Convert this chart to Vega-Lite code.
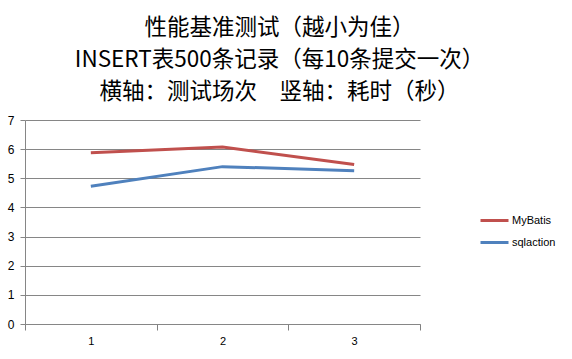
{
  "$schema": "https://vega.github.io/schema/vega-lite/v6.json",
  "width": 395,
  "height": 204,
  "autosize": {"type": "none"},
  "padding": {"left": 25, "top": 120, "right": 152, "bottom": 35},
  "background": "white",
  "title": {
    "text": ["性能基准测试（越小为佳）", "INSERT表500条记录（每10条提交一次）", "横轴：测试场次　竖轴：耗时（秒）"],
    "font": "Noto Sans CJK SC",
    "fontSize": 22.5,
    "fontWeight": "normal",
    "color": "#000000",
    "lineHeight": 32,
    "anchor": "middle",
    "frame": "group",
    "dx": 57,
    "offset": 11
  },
  "data": {
    "values": [
      {"run": "1", "series": "MyBatis", "time": 5.88},
      {"run": "2", "series": "MyBatis", "time": 6.07},
      {"run": "3", "series": "MyBatis", "time": 5.47},
      {"run": "1", "series": "sqlaction", "time": 4.73},
      {"run": "2", "series": "sqlaction", "time": 5.4},
      {"run": "3", "series": "sqlaction", "time": 5.26}
    ]
  },
  "mark": {"type": "line", "strokeWidth": 3},
  "encoding": {
    "x": {
      "field": "run",
      "type": "ordinal",
      "bandPosition": 0.5,
      "scale": {"type": "band", "paddingInner": 0, "paddingOuter": 0},
      "axis": {
        "title": null,
        "labelAngle": 0,
        "tickBand": "extent",
        "ticks": true,
        "tickExtra": true,
        "grid": false,
        "domain": true,
        "domainColor": "#868686",
        "tickColor": "#808080",
        "tickWidth": 1,
        "tickSize": 6,
        "tickOpacity": 1,
        "labelPadding": 5,
        "labelFont": "Liberation Sans",
        "labelFontSize": 11,
        "labelColor": "#000000"
      }
    },
    "y": {
      "field": "time",
      "type": "quantitative",
      "scale": {"domain": [0, 7], "nice": false, "zero": true},
      "axis": {
        "title": null,
        "values": [0, 1, 2, 3, 4, 5, 6, 7],
        "labelOverlap": false,
        "grid": true,
        "gridColor": "#868686",
        "domainColor": "#868686",
        "tickColor": "#868686",
        "tickSize": 5,
        "labelPadding": 6,
        "labelFont": "Liberation Sans",
        "labelFontSize": 12,
        "labelColor": "#000000"
      }
    },
    "color": {
      "field": "series",
      "type": "nominal",
      "scale": {"domain": ["MyBatis", "sqlaction"], "range": ["#C0504D", "#4F81BD"]},
      "legend": {
        "title": null,
        "orient": "none",
        "legendX": 454,
        "legendY": 85,
        "padding": 0,
        "symbolType": "stroke",
        "symbolSize": 784,
        "symbolStrokeWidth": 3,
        "rowPadding": -4,
        "labelOffset": 2,
        "labelFont": "Liberation Sans",
        "labelFontSize": 11,
        "labelColor": "#000000"
      }
    }
  },
  "config": {"view": {"stroke": null}}
}
